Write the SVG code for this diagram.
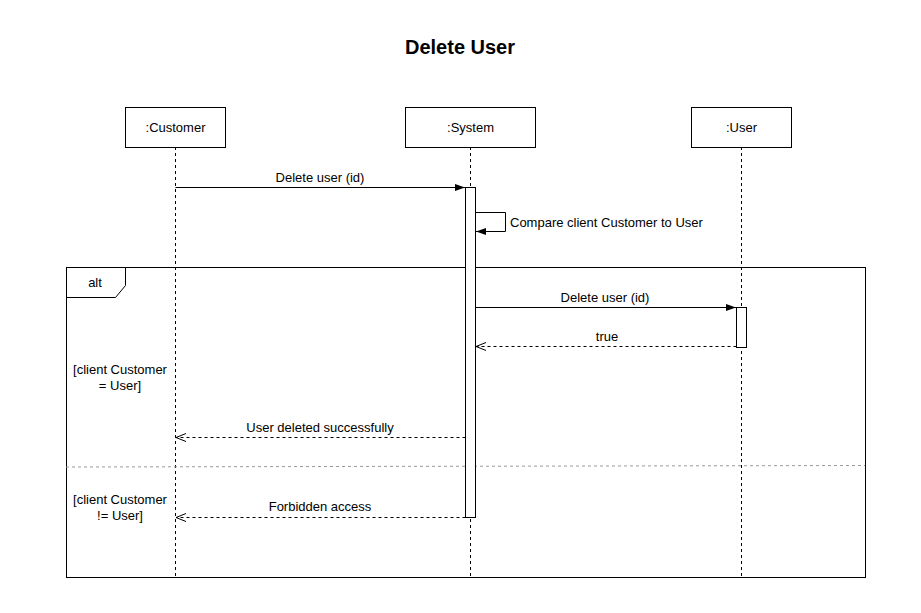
<svg xmlns="http://www.w3.org/2000/svg" width="921" height="613" viewBox="0 0 921 613">
<style>
text{font-family:"Liberation Sans",Arial,Helvetica,sans-serif;font-size:13px;fill:#000}
.c{text-anchor:middle}
.box{fill:#fff;stroke:#000;stroke-width:1}
.life{stroke:#000;stroke-width:1;stroke-dasharray:3 3;fill:none}
.msg{stroke:#000;stroke-width:1;fill:none}
.ret{stroke:#000;stroke-width:1;stroke-dasharray:3 3;fill:none}
</style>
<defs>
<marker id="filled" viewBox="0 0 10 10" refX="10" refY="5" markerWidth="10" markerHeight="10" markerUnits="userSpaceOnUse" orient="auto">
<path d="M0,1.5 L10,5 L0,8.5 Z" fill="#000"/>
</marker>
<marker id="open" viewBox="0 0 10 10" refX="10" refY="5" markerWidth="10" markerHeight="10" markerUnits="userSpaceOnUse" orient="auto">
<path d="M0,1 L10,5 L0,9" fill="none" stroke="#000" stroke-width="1"/>
</marker>
</defs>
<rect width="921" height="613" fill="#fff"/>
<text x="460" y="54" class="c" style="font-size:20px;font-weight:bold">Delete User</text>

<g id="lifelines">
<line class="life" x1="175.5" y1="147" x2="175.5" y2="577"/>
<line class="life" x1="470.5" y1="147" x2="470.5" y2="577"/>
<line class="life" x1="741.5" y1="147" x2="741.5" y2="577"/>
</g>

<g id="alt-frame">
<rect x="66.5" y="267.5" width="799" height="310" fill="none" stroke="#000"/>
<path d="M66.5,297.5 H115.5 L125.5,285.5 V267.5" fill="none" stroke="#000"/>
<text x="95" y="287" class="c">alt</text>
<line x1="66" y1="467" x2="865" y2="465.5" stroke="#999" stroke-dasharray="3 3"/>
<text x="120" y="374" class="c">[client Customer</text>
<text x="120" y="390" class="c">= User]</text>
<text x="120" y="504" class="c">[client Customer</text>
<text x="120" y="520" class="c">!= User]</text>
</g>

<g id="customer">
<rect class="box" x="125.5" y="107.5" width="100" height="40"/>
<text x="175.5" y="132" class="c">:Customer</text>
</g>
<g id="system">
<rect class="box" x="405.5" y="107.5" width="130" height="40"/>
<text x="470.5" y="132" class="c">:System</text>
</g>
<g id="user">
<rect class="box" x="691.5" y="107.5" width="100" height="40"/>
<text x="741.5" y="132" class="c">:User</text>
</g>

<g id="activations">
<rect class="box" x="465.5" y="187.5" width="10" height="330"/>
<rect class="box" x="736.5" y="307.5" width="10" height="40"/>
</g>

<g id="connectors">
<line class="msg" x1="175.5" y1="187.5" x2="465" y2="187.5" marker-end="url(#filled)"/>
<text x="320" y="182" class="c">Delete user (id)</text>
<path class="msg" d="M475.5,212.5 H505.5 V231.5 H476" marker-end="url(#filled)"/>
<text x="510" y="227">Compare client Customer to User</text>
<line class="msg" x1="475.5" y1="307.5" x2="736" y2="307.5" marker-end="url(#filled)"/>
<text x="605" y="302" class="c">Delete user (id)</text>
<line class="ret" x1="736.5" y1="346.5" x2="476" y2="346.5" marker-end="url(#open)"/>
<text x="607" y="341" class="c">true</text>
<line class="ret" x1="465.5" y1="437.5" x2="176" y2="437.5" marker-end="url(#open)"/>
<text x="320" y="432" class="c">User deleted successfully</text>
<line class="ret" x1="465.5" y1="517.5" x2="176" y2="517.5" marker-end="url(#open)"/>
<text x="320" y="511" class="c">Forbidden access</text>
</g>
</svg>
